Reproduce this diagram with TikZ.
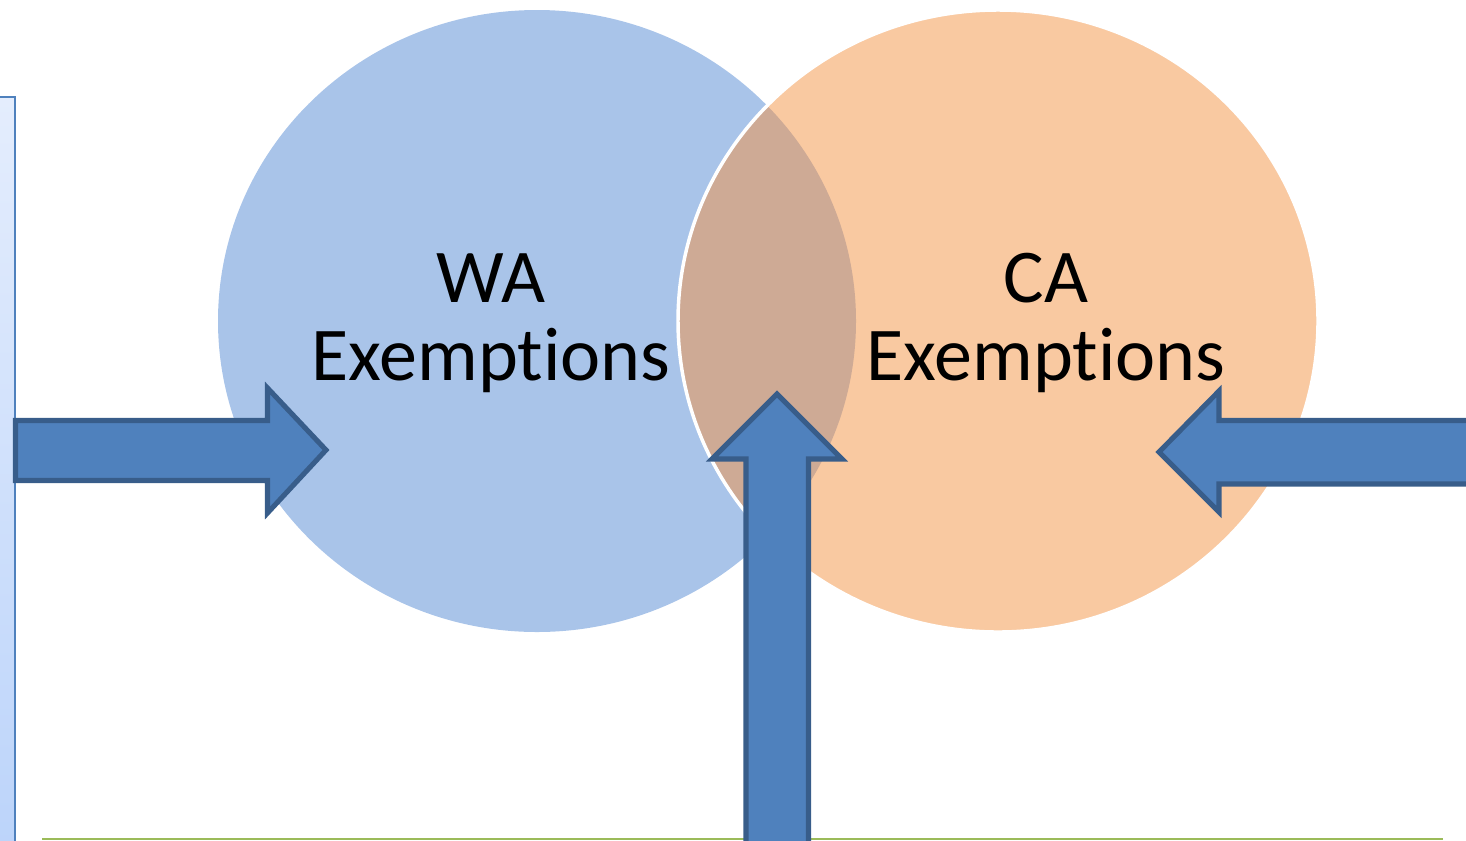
\documentclass[tikz,border=0pt]{standalone}
\usepackage{fontspec}
\setmainfont{Carlito}[Ligatures={NoCommon}]

\tikzset{every picture/.style={line width=0.75pt}}

\begin{document}
\begin{tikzpicture}[x=0.75pt,y=0.75pt,yscale=-1,xscale=1,
  bigarrow/.style={fill={rgb, 255:red, 79; green, 129; blue, 189 }, draw={rgb, 255:red, 56; green, 93; blue, 138 }, line width=3.8pt},
  label/.style={align=center, anchor=base, font=\fontsize{57}{58.5}\selectfont}]
%set diagram left start at 0, and has height of 840
\useasboundingbox (0,0) rectangle (1466,840);
\clip (0,0) rectangle (1466,840);

%Shape: Rectangle (left panel)
\shade [top color={rgb, 255:red, 228; green, 237; blue, 253 }, bottom color={rgb, 255:red, 188; green, 212; blue, 250 }] (-10,97) rectangle (15,850);
\draw [color={rgb, 255:red, 79; green, 129; blue, 189 }, line width=2pt] (-10,97) -- (15,97) -- (15,850);

%Straight Lines (bottom rule)
\draw [color={rgb, 255:red, 155; green, 187; blue, 89 }, line width=2.2pt] (42,839) -- (1443,839) ;

%Shape: Ellipse (WA)
\fill [color={rgb, 255:red, 169; green, 196; blue, 233 }] (537,321) ellipse (319 and 311);
%Shape: Ellipse (CA)
\fill [color={rgb, 255:red, 249; green, 201; blue, 161 }] (998,321) ellipse (320 and 311);
%Shape: Overlap
\begin{scope}
\clip (537,321) ellipse (319 and 311);
\fill [color={rgb, 255:red, 206; green, 170; blue, 149 }] (998,321) ellipse (320 and 311);
\end{scope}
\draw [color=white, line width=2.6pt] (998,321) ellipse (320 and 311);

% Text Node
\node (wa) [label] at (491,380) {WA\\Exemptions};
% Text Node
\node (ca) [label] at (1046,380) {CA\\Exemptions};

%Shape: Right Arrow
\draw [bigarrow] (15.5,420.5) -- (267.5,420.5) -- (267.5,388) -- (326,450) -- (267.5,513) -- (267.5,480.5) -- (15.5,480.5) -- cycle ;
%Shape: Up Arrow
\draw [bigarrow] (746,860) -- (746,459) -- (712,459) -- (777,394) -- (842,459) -- (808.5,459) -- (808.5,860) -- cycle ;
%Shape: Left Arrow
\draw [bigarrow] (1480,420.5) -- (1219,420.5) -- (1219,391) -- (1159,452) -- (1219,512) -- (1219,484) -- (1480,484) -- cycle ;

\end{tikzpicture}
\end{document}
